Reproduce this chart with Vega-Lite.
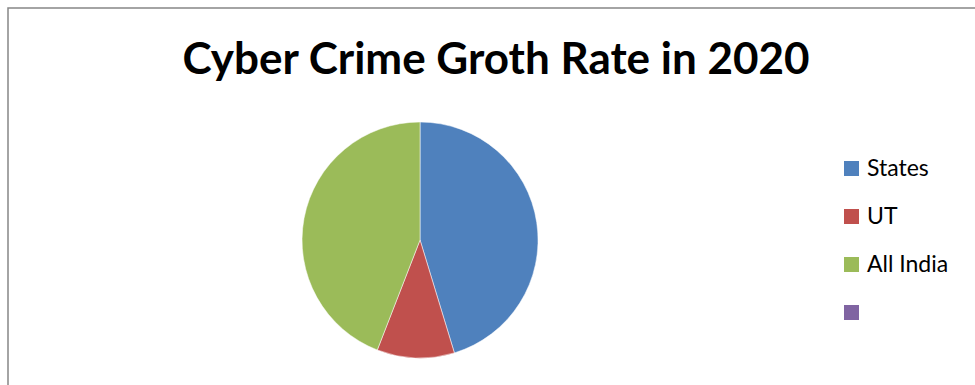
{
  "$schema": "https://vega.github.io/schema/vega-lite/v6.json",
  "autosize": "none",
  "width": 990,
  "height": 464,
  "padding": {"left": 8, "top": 8, "right": 0, "bottom": 0},
  "background": "white",
  "view": {"stroke": "#868686", "strokeWidth": 1.5, "fill": "white"},
  "title": {
    "text": "Cyber Crime Groth Rate in 2020",
    "font": "Lato",
    "fontSize": 44,
    "fontWeight": "bold",
    "color": "black",
    "anchor": "middle",
    "baseline": "alphabetic",
    "offset": -69,
    "dx": -7,
    "dy": 41
  },
  "data": {
    "values": [
      {"Category": "States", "Value": 45.3, "rank": 1},
      {"Category": "UT", "Value": 10.6, "rank": 2},
      {"Category": "All India", "Value": 44.1, "rank": 3}
    ]
  },
  "mark": {"type": "arc", "outerRadius": 118, "x": {"expr": "width*0.4162"}, "stroke": "white", "strokeWidth": 0.5},
  "encoding": {
    "theta": {"field": "Value", "type": "quantitative", "stack": true},
    "order": {"field": "rank", "type": "quantitative"},
    "color": {
      "field": "Category",
      "type": "nominal",
      "scale": {"domain": ["States", "UT", "All India", " "], "range": ["#4F81BD", "#C0504D", "#9BBB59", "#8064A2"]},
      "legend": {
        "title": null,
        "orient": "none",
        "legendX": 832,
        "legendY": 149,
        "symbolType": "square",
        "symbolSize": 225,
        "symbolStrokeWidth": 0,
        "symbolOpacity": 1,
        "labelFont": "Lato",
        "labelFontSize": 23,
        "labelColor": "black",
        "labelOffset": 4,
        "rowPadding": 24,
        "padding": 0
      }
    }
  }
}
